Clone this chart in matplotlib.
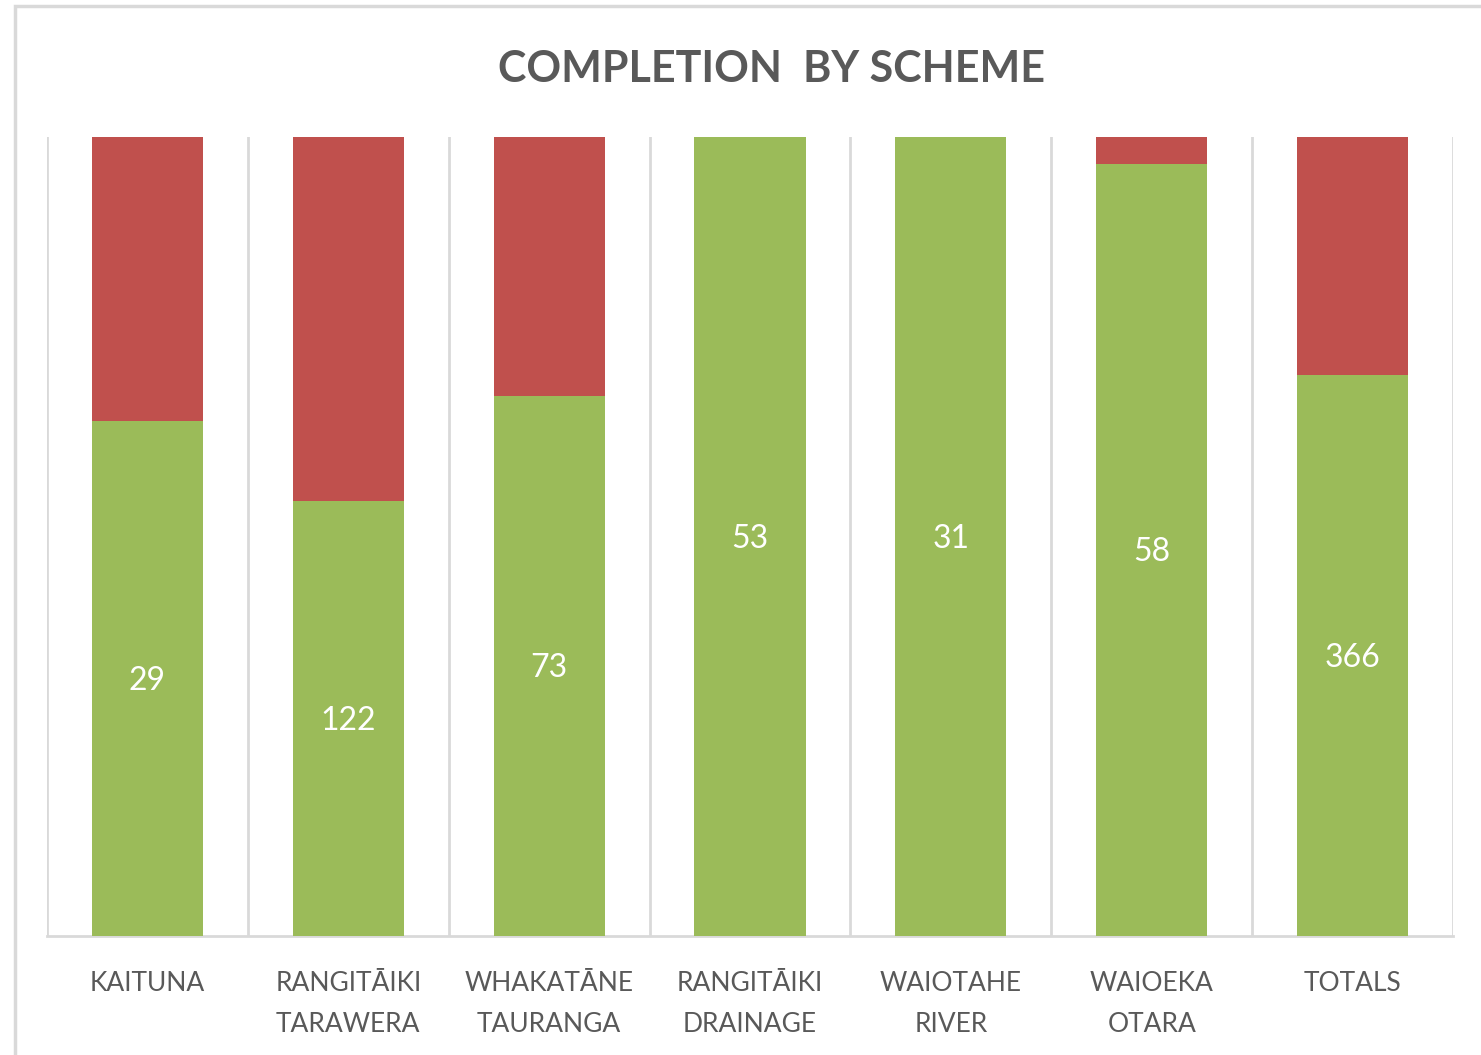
import matplotlib.pyplot as plt
from matplotlib.patches import Rectangle
import numpy as np

# data
schemes = ['KAITUNA', 'RANGITĀIKI\nTARAWERA', 'WHAKATĀNE\nTAURANGA', 'RANGITĀIKI\nDRAINAGE',
           'WAIOTAHE\nRIVER', 'WAIOEKA\nOTARA', 'TOTALS']
completed = [29, 122, 73, 53, 31, 58, 366]
not_completed = [16, 102, 35, 0, 0, 2, 155]

green = '#9BBB59'
red = '#C0504D'
grey_text = '#595959'
grid_grey = '#D9D9D9'

plt.rcParams['font.family'] = ['Lato', 'DejaVu Sans']

fig = plt.figure(figsize=(14.81, 10.55), dpi=100)
ax = fig.add_axes([47 / 1481, 119 / 1055, 1406 / 1481, 799 / 1055])

done = np.array(completed, dtype=float)
todo = np.array(not_completed, dtype=float)
total = done + todo
done_frac = done / total
todo_frac = todo / total

x = np.arange(len(schemes))
ax.bar(x, done_frac, width=0.553, color=green, zorder=3)
ax.bar(x, todo_frac, width=0.553, bottom=done_frac, color=red, zorder=3)

# value labels in the middle of the green part
for xi, f, v in zip(x, done_frac, completed):
    ax.text(xi, f / 2 - 0.003, str(v), ha='center', va='center', color='white', fontsize=23, zorder=4)

ax.set_xlim(-0.5, len(schemes) - 0.5)
ax.set_ylim(0, 1)
ax.set_yticks([])

ax.set_xticks(x)
ax.set_xticklabels(schemes, fontsize=19, color=grey_text, linespacing=1.8)
ax.tick_params(axis='x', length=0, pad=25)

# vertical lines between categories
ax.set_xticks(np.arange(-0.5, len(schemes)), minor=True)
ax.tick_params(axis='x', which='minor', length=0)
ax.grid(axis='x', which='minor', color=grid_grey, linewidth=2, zorder=0)

for side in ['top', 'left', 'right']:
    ax.spines[side].set_visible(False)
ax.spines['bottom'].set_color(grid_grey)
ax.spines['bottom'].set_linewidth(2)

fig.text(772 / 1481, 1 - 69 / 1055, 'COMPLETION  BY SCHEME', ha='center', va='center',
         fontsize=31, fontweight='bold', color=grey_text)

# chart frame, cut off at the right and bottom
fig.add_artist(Rectangle((15 / 1481, -0.1), 1.2, 1.1 - 6 / 1055, transform=fig.transFigure,
                         fill=False, edgecolor=grid_grey, linewidth=2.5))

plt.savefig('out.png', dpi=100)
